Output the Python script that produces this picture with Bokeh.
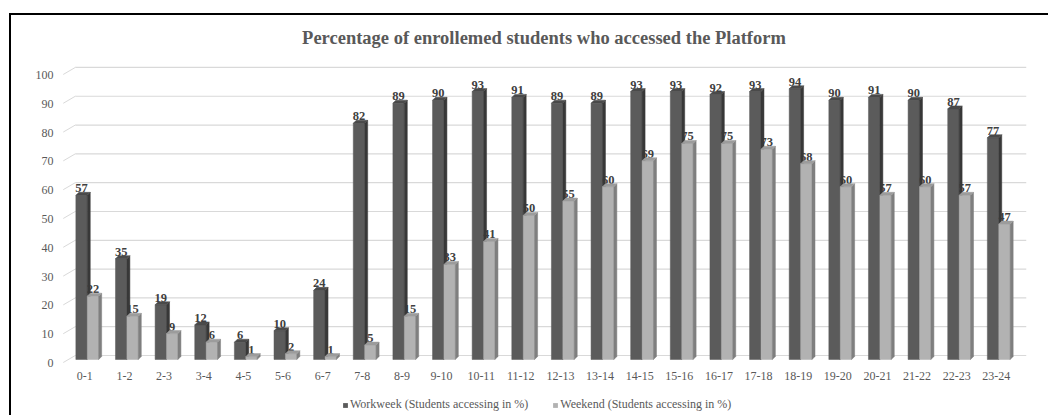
from bokeh.plotting import figure
from bokeh.layouts import column
from bokeh.models import Range1d, FixedTicker, LinearAxis, Legend, LegendItem
from bokeh.core.properties import value
from bokeh.embed import file_html
from bokeh.resources import INLINE

# ---- data -------------------------------------------------------------
hours = ["0-1", "1-2", "2-3", "3-4", "4-5", "5-6", "6-7", "7-8", "8-9", "9-10",
         "10-11", "11-12", "12-13", "13-14", "14-15", "15-16", "16-17", "17-18",
         "18-19", "19-20", "20-21", "21-22", "22-23", "23-24"]
workweek = [57, 35, 19, 12, 6, 10, 24, 82, 89, 90, 93, 91, 89, 89, 93, 93, 92,
            93, 94, 90, 91, 90, 87, 77]
weekend = [22, 15, 9, 6, 1, 2, 1, 5, 15, 33, 41, 50, 55, 60, 69, 75, 75, 73,
           68, 60, 57, 60, 57, 47]
y_ticks = list(range(0, 101, 10))

TITLE = "Percentage of enrollemed students who accessed the Platform"
WORK_LABEL = "Workweek (Students accessing in %)"
WEEKEND_LABEL = "Weekend (Students accessing in %)"

SERIF = "Liberation Serif"
TEXT_GREY = "#595959"
DARK = {"front": "#5b5b5b", "side": "#383838", "top": "#4a4a4a"}
LIGHT = {"front": "#b2b2b2", "side": "#7f7f7f", "top": "#9c9c9c"}

# ---- page / frame geometry ---------------------------------------------
PAGE_W, PAGE_H = 1048, 415
OFF_L, OFF_T = 11, 15                  # margin + border in front of the canvases
WIDTH = PAGE_W - OFF_L
MAIN_H, LEG_H = 375, PAGE_H - OFF_T - 375
FRAME_L, FRAME_T, FRAME_W, FRAME_H = 50, 43, 965, 308
X0, X1 = -0.65, 23.70
Y0, Y1 = -2.43, 104.5
ux = (X1 - X0) / FRAME_W          # data units per pixel, x
uy = (Y1 - Y0) / FRAME_H          # data units per pixel, y

BAR_W = 11.4 * ux                 # front face width
DX, DY = 3 * ux, 3 * uy           # depth of the prisms

p = figure(width=WIDTH, height=MAIN_H, output_backend="svg", toolbar_location=None,
           x_range=Range1d(X0, X1), y_range=Range1d(Y0, Y1),
           min_border_left=FRAME_L, min_border_top=FRAME_T,
           min_border_right=WIDTH - FRAME_L - FRAME_W,
           min_border_bottom=MAIN_H - FRAME_T - FRAME_H,
           x_axis_location=None, y_axis_location=None)
p.background_fill_color = "white"
p.border_fill_color = "white"
p.outline_line_color = None
p.xgrid.visible = False
p.ygrid.visible = False

p.title.text = TITLE
p.title.align = "center"
p.title.text_font = SERIF
p.title.text_font_size = "18.5px"
p.title.text_font_style = "bold"
p.title.text_color = TEXT_GREY
p.title.standoff = 21

# axes: labels sit on the floor's front edge, slightly below the bar plane
p.extra_y_ranges = {"lab": Range1d(Y0 + 3.5 * uy, Y1 + 3.5 * uy)}
p.extra_x_ranges = {"lab": Range1d(X0 + 2.4 * ux, X1 + 2.4 * ux)}

yaxis = LinearAxis(y_range_name="lab", ticker=FixedTicker(ticks=y_ticks))
xaxis = LinearAxis(x_range_name="lab", ticker=FixedTicker(ticks=list(range(len(hours)))),
                   major_label_overrides={i: h for i, h in enumerate(hours)})
for ax in (xaxis, yaxis):
    ax.axis_line_color = None
    ax.major_tick_line_color = None
    ax.minor_tick_line_color = None
    ax.major_tick_in = 0
    ax.major_tick_out = 0
    ax.major_label_text_font = SERIF
    ax.major_label_text_font_size = "12px"
    ax.major_label_text_color = TEXT_GREY
yaxis.major_label_standoff = 8
xaxis.major_label_standoff = 5
p.add_layout(yaxis, "left")
p.add_layout(xaxis, "below")

# ---- back wall gridlines with their perspective stubs ------------------
back = [v + 4 * uy for v in y_ticks]
front = [v - 3 * uy for v in y_ticks]
p.segment(x0=[-24 * ux] * len(y_ticks), y0=front,
          x1=[-12 * ux] * len(y_ticks), y1=back, line_color="#d9d9d9", line_width=1)
p.segment(x0=[-12 * ux] * len(y_ticks), y0=back,
          x1=[X1] * len(y_ticks), y1=back, line_color="#d9d9d9", line_width=1.2)


def prisms(lefts, vals):
    fx, fy, sx, sy, tx, ty = [], [], [], [], [], []
    for xl, v in zip(lefts, vals):
        xr = xl + BAR_W
        fx.append([xl, xr, xr, xl]); fy.append([0, 0, v, v])
        sx.append([xr, xr + DX, xr + DX, xr]); sy.append([0, DY, v + DY, v])
        tx.append([xl, xr, xr + DX, xl + DX]); ty.append([v, v, v + DY, v + DY])
    return (fx, fy), (sx, sy), (tx, ty)


def draw(lefts, vals, cols):
    (fx, fy), (sx, sy), (tx, ty) = prisms(lefts, vals)
    p.patches(fx, fy, fill_color=cols["front"], line_color=cols["front"], line_width=0.5)
    p.patches(sx, sy, fill_color=cols["side"], line_color=cols["side"], line_width=0.5)
    p.patches(tx, ty, fill_color=cols["top"], line_color=cols["top"], line_width=0.5)


idx = list(range(len(hours)))
label_style = dict(text_font=value(SERIF), text_font_size="12.5px", text_font_style="bold",
                   text_color="#404040", text_align="center", text_baseline="alphabetic")

# weekend labels go first: the workweek prisms partly cover them
p.text(x=[i + BAR_W / 2 for i in idx], y=[v + DY + 4 * uy for v in weekend],
       text=[str(v) for v in weekend], **label_style)

draw([i - BAR_W for i in idx], workweek, DARK)
draw([i for i in idx], weekend, LIGHT)

p.text(x=[i - BAR_W / 2 for i in idx], y=[v + DY + 4 * uy for v in workweek],
       text=[str(v) for v in workweek], **label_style)

# ---- legend strip under the chart ---------------------------------------
leg = figure(width=WIDTH, height=LEG_H, output_backend="svg", toolbar_location=None,
             x_range=Range1d(0, 1), y_range=Range1d(0, 1),
             min_border_left=0, min_border_right=0, min_border_top=0, min_border_bottom=0,
             x_axis_location=None, y_axis_location=None)
leg.outline_line_color = None
leg.xgrid.visible = False
leg.ygrid.visible = False
# zero-area quads: they only carry the colour swatches of the legend keys
work_key = leg.quad(left=[0], right=[0], top=[0], bottom=[0],
                    fill_color=DARK["front"], line_color=None)
weekend_key = leg.quad(left=[0], right=[0], top=[0], bottom=[0],
                       fill_color=LIGHT["front"], line_color=None)
legend = Legend(items=[LegendItem(label=WORK_LABEL, renderers=[work_key]),
                       LegendItem(label=WEEKEND_LABEL, renderers=[weekend_key])],
                orientation="horizontal", location=(281, 3),
                glyph_width=6, glyph_height=6, label_standoff=2, spacing=24,
                padding=0, margin=0, label_height=12,
                label_text_font=SERIF, label_text_font_size="12px",
                label_text_color=TEXT_GREY, border_line_color=None,
                background_fill_alpha=0)
leg.add_layout(legend)

page = column(p, leg, spacing=0, margin=(OFF_T - 2, 0, 0, OFF_L - 2),
              styles={"border-left": "2px solid black", "border-top": "2px solid black"})

open("out.html", "w").write(file_html(page, INLINE))
